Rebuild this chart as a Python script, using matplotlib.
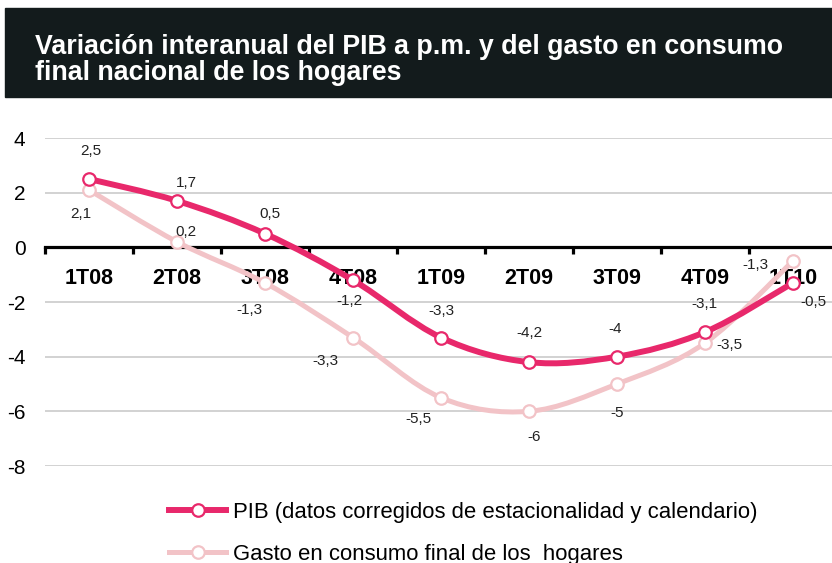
import numpy as np
import matplotlib.pyplot as plt
from matplotlib.path import Path
from matplotlib.patches import PathPatch, Rectangle
from matplotlib.lines import Line2D

plt.rcParams['font.family'] = ['Liberation Sans', 'DejaVu Sans']

# Data
quarters = ["1T08", "2T08", "3T08", "4T08", "1T09", "2T09", "3T09", "4T09", "1T10"]
pib = [2.5, 1.7, 0.5, -1.2, -3.3, -4.2, -4.0, -3.1, -1.3]
gasto = [2.1, 0.2, -1.3, -3.3, -5.5, -6.0, -5.0, -3.5, -0.5]

pib_label = "PIB (datos corregidos de estacionalidad y calendario)"
gasto_label = "Gasto en consumo final de los  hogares"
title = "Variación interanual del PIB a p.m. y del gasto en consumo\nfinal nacional de los hogares"

# label offsets in pixels (dx, dy) from each marker
pib_off = [(2, 28), (9, 18), (5, 20), (-4, -21), (0, 27), (0, 29), (-2, 28), (-1, 28), (-38, 18)]
gasto_off = [(-8, -24), (9, 10), (-16, -27), (-28, -23), (-23, -21), (5, -26), (0, -29), (24, -2), (20, -41)]

pib_color = "#e8286b"
gasto_color = "#f2c3c7"


def smooth_path(xs, ys):
    # Catmull-Rom style bezier through the points (like Excel's smoothed line)
    pts = np.column_stack([xs, ys]).astype(float)
    verts = [pts[0]]
    codes = [Path.MOVETO]
    n = len(pts)
    for i in range(n - 1):
        p0 = pts[max(i - 1, 0)]
        p1 = pts[i]
        p2 = pts[i + 1]
        p3 = pts[min(i + 2, n - 1)]
        c1 = p1 + (p2 - p0) / 6.0
        c2 = p2 - (p3 - p1) / 6.0
        verts += [c1, c2, p2]
        codes += [Path.CURVE4] * 3
    return Path(verts, codes)


fig = plt.figure(figsize=(8.32, 5.63), dpi=100)

# dark title band
fig.patches.append(Rectangle((5 / 832, 1 - 97 / 563), 827 / 832, 89 / 563,
                             transform=fig.transFigure, color="#131b1c", zorder=0))
fig.text(35 / 832, 1 - 60 / 563, title, color="white", fontsize=19.3, fontweight="bold",
         va="center", ha="left", linespacing=1.05)

ax = fig.add_axes([45 / 832, 1 - 466 / 563, 792 / 832, 328 / 563])
x = np.arange(len(quarters))
ax.set_xlim(-0.5, len(quarters) - 0.5)
ax.set_ylim(-8, 4)
ax.set_yticks([-8, -6, -4, -2, 0, 2, 4])
ax.set_yticklabels([f"{v}" for v in [-8, -6, -4, -2, 0, 2, 4]], fontsize=15)
ax.tick_params(axis="y", length=0, pad=14)
ax.yaxis.grid(True, color="#cfcfcf", linewidth=1.3)
ax.set_axisbelow(True)

for s in ["top", "right", "left"]:
    ax.spines[s].set_visible(False)
ax.spines["bottom"].set_position(("data", 0))
ax.spines["bottom"].set_linewidth(2.3)
ax.spines["bottom"].set_color("black")

ax.set_xticks(x)
ax.set_xticklabels(quarters, fontsize=15.5, fontweight="bold")
ax.tick_params(axis="x", which="major", length=0, pad=15)
ax.set_xticks(np.arange(len(quarters)) - 0.5, minor=True)
ax.tick_params(axis="x", which="minor", length=5, width=2.3, direction="out", color="black")

for ys, col, lw in [(gasto, gasto_color, 3.6), (pib, pib_color, 4.3)]:
    patch = PathPatch(smooth_path(x, ys), fill=False, edgecolor=col, linewidth=lw,
                      zorder=3, clip_on=False, capstyle="round", joinstyle="round")
    ax.add_patch(patch)
    ax.plot(x, ys, "o", ms=9, mfc="white", mec=col, mew=1.6, zorder=4, clip_on=False)

for vals, offs in [(pib, pib_off), (gasto, gasto_off)]:
    for xi, v, (dx, dy) in zip(x, vals, offs):
        txt = f"{v:g}".replace(".", ",")
        ax.annotate(txt, (xi, v), xytext=(dx, dy), textcoords="offset pixels",
                    ha="center", va="center", fontsize=11, color="#222222", zorder=5)

handles = [
    Line2D([], [], color=pib_color, lw=4.3, marker="o", ms=9, mfc="white", mec=pib_color, mew=1.6),
    Line2D([], [], color=gasto_color, lw=3.6, marker="o", ms=9, mfc="white", mec=gasto_color, mew=1.6),
]
fig.legend(handles, [pib_label, gasto_label], loc="upper left",
           bbox_to_anchor=(160 / 832, 1 - 493 / 563), frameon=False, fontsize=15.9,
           handlelength=2.6, handletextpad=0.3, labelspacing=0.95, borderaxespad=0)

fig.savefig("out.png", dpi=100)
